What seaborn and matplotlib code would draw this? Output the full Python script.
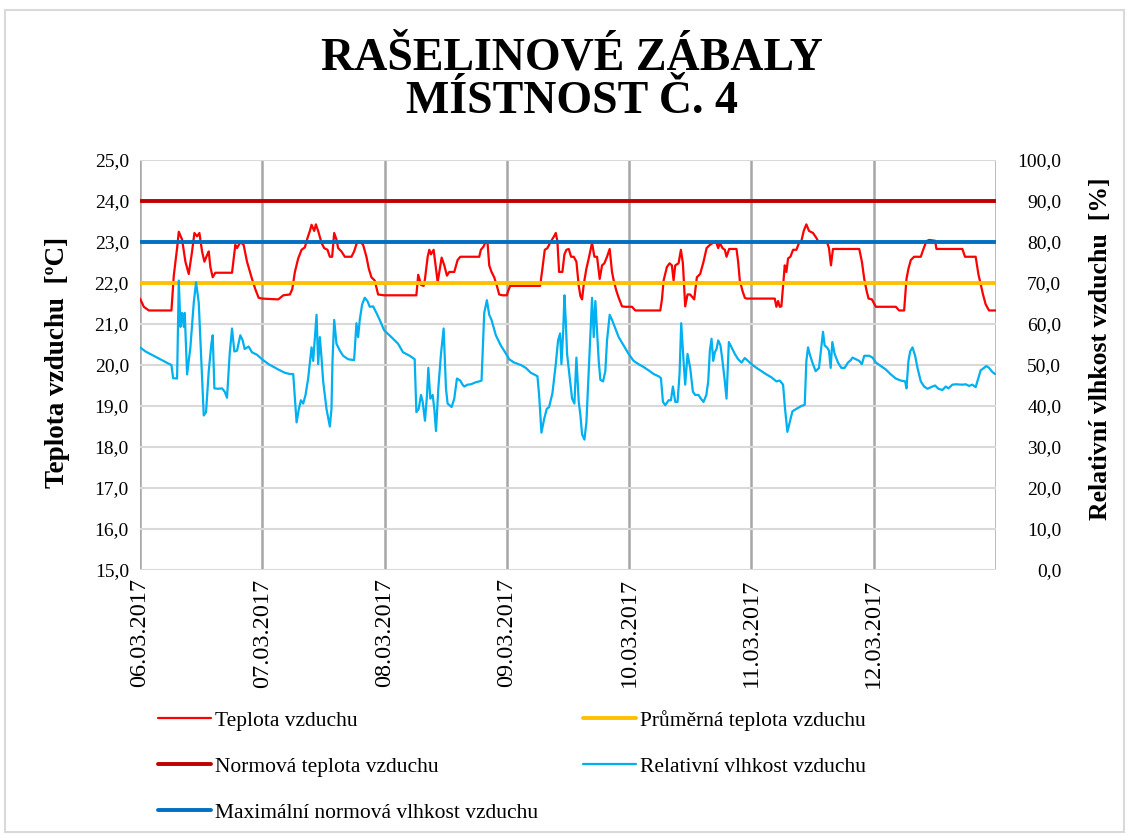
import numpy as np
import pandas as pd
import matplotlib
matplotlib.use("Agg")
import matplotlib.pyplot as plt
import seaborn as sns
from matplotlib.patches import Rectangle
from matplotlib.lines import Line2D

# ---------------- data (hours since 06.03.2017 00:00) ----------------
temp_hours = [0.0, 0.75, 1.73, 6.17, 6.63, 7.28, 7.61, 8.26, 8.91, 9.57, 10.22, 10.68, 11.2, 11.66,
              12.18, 12.64, 13.16, 13.49, 13.81, 14.27, 14.79, 18.06, 18.71, 19.04, 19.69, 20.34,
              21.0, 21.98, 22.63, 23.28, 23.94, 27.14, 28.11, 29.42, 29.88, 30.4, 31.05, 31.71,
              32.36, 32.88, 33.34, 33.67, 34.19, 34.51, 34.97, 35.62, 36.15, 36.8, 37.26, 37.71,
              38.11, 38.56, 38.89, 39.54, 40.2, 41.5, 42.02, 42.68, 43.13, 43.79, 44.44, 44.9,
              45.42, 46.07, 46.73, 47.9, 54.24, 54.6, 55.2, 55.67, 55.93, 56.46, 56.78, 57.11,
              57.63, 58.09, 58.42, 58.74, 59.2, 59.72, 60.24, 60.7, 61.68, 62.33, 62.86, 66.58,
              66.9, 67.43, 67.88, 68.21, 68.54, 68.99, 69.52, 70.04, 70.5, 71.15, 72.0, 72.26,
              72.65, 78.53, 78.98, 79.44, 79.96, 80.49, 81.27, 81.6, 81.92, 82.25, 82.9, 83.3,
              83.69, 84.15, 84.61, 85.13, 85.65, 86.11, 86.44, 86.76, 87.09, 87.61, 88.07, 88.72,
              89.18, 89.7, 90.22, 90.68, 91.14, 91.66, 92.18, 92.64, 92.97, 93.49, 93.95, 94.6,
              95.25, 96.56, 97.21, 102.11, 102.44, 102.76, 103.41, 103.94, 104.39, 104.72, 105.05,
              105.7, 106.16, 106.55, 107.0, 107.46, 107.98, 108.77, 109.29, 109.94, 110.6, 111.2,
              111.84, 112.5, 113.02, 113.48, 113.8, 114.32, 114.78, 115.11, 115.63, 117.07, 117.39,
              117.72, 118.24, 118.7, 119.03, 124.58, 124.9, 125.23, 125.56, 125.88, 126.21, 126.54,
              126.86, 127.19, 127.65, 128.17, 128.82, 129.35, 129.8, 130.26, 130.78, 131.3, 132.09,
              132.74, 133.07, 134.83, 135.22, 135.61, 136.0, 141.16, 141.68, 142.14, 142.6, 142.99,
              143.64, 144.42, 148.34, 148.99, 149.97, 150.43, 150.82, 151.28, 151.93, 153.24, 153.7,
              154.35, 154.87, 156.05, 156.31, 161.4, 161.92, 164.01, 164.54, 164.99, 165.45, 165.97,
              166.63, 168.0]
temp_values = [21.62, 21.42, 21.33, 21.33, 22.18, 22.85, 23.25, 23.06, 22.52, 22.22, 22.77, 23.22,
               23.14, 23.22, 22.77, 22.52, 22.68, 22.77, 22.39, 22.14, 22.25, 22.25, 22.93, 22.85,
               23.0, 22.93, 22.52, 22.1, 21.85, 21.64, 21.62, 21.6, 21.7, 21.72, 21.85, 22.27, 22.6,
               22.81, 22.87, 23.1, 23.27, 23.42, 23.27, 23.43, 23.27, 22.98, 22.85, 22.81, 22.64,
               22.64, 23.22, 23.06, 22.85, 22.77, 22.64, 22.64, 22.77, 23.02, 23.02, 22.93, 22.64,
               22.35, 22.14, 22.06, 21.72, 21.7, 21.7, 22.2, 21.95, 21.93, 22.1, 22.64, 22.81, 22.7,
               22.81, 22.35, 22.02, 22.27, 22.62, 22.43, 22.18, 22.27, 22.27, 22.56, 22.64, 22.64,
               22.81, 22.89, 23.02, 22.98, 22.43, 22.27, 22.14, 21.93, 21.72, 21.7, 21.7, 21.81,
               21.93, 21.93, 22.35, 22.81, 22.85, 22.98, 23.14, 23.22, 23.02, 22.27, 22.27, 22.7,
               22.81, 22.83, 22.64, 22.64, 22.52, 21.93, 21.68, 21.6, 21.97, 22.35, 22.6, 22.98,
               22.64, 22.64, 22.1, 22.43, 22.48, 22.64, 22.83, 22.27, 22.06, 21.81, 21.64, 21.43,
               21.42, 21.42, 21.33, 21.33, 21.6, 22.06, 22.39, 22.48, 22.43, 22.06, 22.43, 22.48,
               22.81, 22.48, 21.43, 21.72, 21.72, 21.6, 22.14, 22.22, 22.52, 22.85, 22.93, 22.98,
               23.02, 22.85, 22.98, 22.85, 22.81, 22.64, 22.83, 22.83, 22.52, 22.06, 21.81, 21.64,
               21.62, 21.62, 21.42, 21.56, 21.42, 21.43, 21.93, 22.43, 22.27, 22.6, 22.64, 22.81,
               22.81, 22.98, 23.02, 23.27, 23.43, 23.27, 23.22, 23.1, 23.02, 23.0, 22.85, 22.43,
               22.83, 22.83, 22.52, 22.1, 21.81, 21.62, 21.6, 21.42, 21.42, 21.33, 21.33, 22.1,
               22.35, 22.56, 22.64, 22.64, 22.81, 23.02, 23.05, 23.03, 22.83, 22.83, 22.64, 22.64,
               22.22, 21.97, 21.72, 21.48, 21.33, 21.33]

hum_hours = [0.0, 0.43, 1.08, 5.65, 6.17, 6.5, 7.28, 7.61, 7.94, 8.26, 8.59, 8.78, 9.24, 9.89, 10.55,
             11.0, 11.53, 11.98, 12.51, 12.96, 13.49, 14.01, 14.27, 14.6, 15.32, 16.1, 16.62, 17.08,
             17.6, 18.06, 18.52, 19.04, 19.69, 20.15, 20.54, 21.32, 21.98, 22.96, 23.94, 25.24,
             27.14, 27.79, 28.44, 29.42, 30.07, 30.4, 30.73, 31.18, 31.58, 32.03, 32.49, 33.01,
             33.67, 33.99, 34.32, 34.65, 34.97, 35.3, 35.62, 35.95, 36.6, 37.26, 37.58, 37.78,
             38.11, 38.56, 39.22, 39.87, 40.85, 42.02, 42.48, 42.81, 43.13, 43.59, 44.11, 44.64,
             45.09, 45.75, 46.4, 47.05, 47.9, 49.34, 50.64, 51.62, 52.93, 53.91, 54.24, 54.69,
             55.15, 55.48, 55.93, 56.33, 56.59, 56.98, 57.44, 57.76, 58.09, 58.55, 59.07, 59.59,
             60.05, 60.37, 61.16, 61.68, 62.2, 62.86, 63.31, 63.64, 64.29, 64.95, 65.92, 66.58,
             67.03, 67.56, 68.08, 68.54, 68.99, 69.84, 70.82, 71.8, 72.45, 73.43, 74.74, 75.72,
             76.7, 77.35, 78.0, 78.33, 78.79, 79.31, 79.83, 80.29, 80.94, 81.6, 82.05, 82.45,
             82.71, 83.05, 83.3, 83.55, 83.82, 84.35, 84.8, 85.26, 85.65, 86.11, 86.44, 86.76,
             87.22, 87.61, 88.07, 88.39, 88.72, 89.05, 89.37, 89.7, 90.03, 90.35, 90.88, 91.33,
             91.66, 92.18, 92.64, 93.29, 93.95, 94.92, 95.9, 96.88, 97.86, 98.84, 99.82, 100.8,
             101.78, 102.24, 102.63, 103.09, 103.74, 104.2, 104.59, 105.05, 105.5, 105.89, 106.22,
             106.68, 107.0, 107.46, 107.98, 108.51, 108.96, 109.62, 110.07, 110.6, 111.15, 111.52,
             111.84, 112.17, 112.5, 112.82, 113.15, 113.48, 113.93, 114.32, 114.78, 115.11, 115.57,
             116.09, 116.74, 117.39, 118.05, 118.7, 119.16, 120.01, 120.99, 121.97, 122.95, 123.92,
             124.9, 125.56, 126.21, 126.6, 127.06, 127.52, 128.04, 128.82, 129.8, 130.46, 130.78,
             131.11, 131.43, 131.96, 132.61, 133.26, 133.72, 134.05, 134.37, 134.83, 135.22,
             135.55, 135.88, 136.33, 136.99, 137.64, 138.29, 138.95, 139.5, 139.85, 140.51, 141.16,
             141.68, 142.14, 143.12, 143.77, 144.42, 145.4, 146.38, 147.36, 148.34, 149.32, 150.17,
             150.43, 150.82, 151.15, 151.61, 152.13, 152.59, 153.24, 153.89, 154.55, 155.53,
             156.05, 156.7, 157.48, 158.14, 158.66, 159.44, 160.1, 161.4, 162.06, 162.71, 163.36,
             164.01, 164.54, 164.99, 165.65, 166.1, 166.63, 167.28, 167.8]
hum_values = [54.3, 53.9, 53.3, 50.3, 50.0, 46.8, 46.7, 70.6, 59.3, 62.7, 59.3, 62.7, 47.7, 54.3, 65.2,
              70.2, 65.2, 52.7, 37.7, 38.5, 48.5, 55.2, 57.25, 44.3, 44.2, 44.3, 43.5, 42.0, 52.7,
              58.9, 53.3, 53.5, 57.25, 56.0, 53.9, 54.5, 53.1, 52.5, 51.4, 50.2, 48.9, 48.5, 48.1,
              47.8, 47.8, 41.8, 36.0, 39.3, 41.4, 40.6, 42.7, 46.8, 54.3, 51.0, 56.8, 62.25, 50.2,
              56.8, 51.8, 46.0, 39.3, 35.0, 39.3, 51.0, 61.0, 55.2, 53.5, 52.25, 51.4, 51.2, 60.2,
              56.8, 61.0, 64.75, 66.4, 65.6, 64.2, 64.3, 62.7, 61.0, 58.5, 56.8, 55.2, 53.1, 52.25,
              51.4, 38.5, 39.3, 42.7, 41.0, 36.4, 42.7, 49.3, 41.8, 42.7, 39.3, 33.9, 44.3, 52.7,
              58.9, 44.3, 40.6, 39.75, 41.8, 46.7, 46.2, 45.2, 44.75, 45.2, 45.3, 45.8, 46.0, 46.2,
              62.7, 65.8, 62.25, 61.0, 57.25, 54.75, 52.8, 51.4, 50.6, 50.0, 49.3, 48.1, 47.7, 47.25,
              42.7, 33.5, 36.8, 39.3, 39.75, 43.1, 50.2, 56.0, 57.7, 50.2, 58.0, 67.0, 61.0, 52.7,
              46.8, 41.8, 40.6, 51.8, 41.0, 37.7, 33.1, 31.8, 36.0, 48.5, 56.8, 66.4, 56.8, 65.6,
              58.5, 51.0, 46.4, 46.0, 48.5, 56.0, 62.25, 61.0, 58.9, 56.8, 54.75, 52.7, 51.0, 50.2,
              49.5, 48.7, 47.8, 47.25, 46.8, 41.0, 40.2, 41.4, 41.4, 44.75, 41.0, 41.0, 47.7, 60.2,
              51.0, 45.2, 52.7, 49.3, 43.5, 42.7, 42.7, 41.8, 41.0, 42.7, 46.0, 53.5, 56.4, 51.0,
              53.1, 53.9, 56.0, 54.75, 51.0, 46.0, 41.8, 55.6, 54.3, 52.7, 51.4, 50.6, 51.7, 51.2,
              50.2, 49.3, 48.5, 47.7, 47.0, 46.0, 46.2, 45.2, 39.3, 33.7, 36.0, 38.7, 39.3, 40.0,
              40.3, 51.0, 54.3, 52.7, 50.6, 48.5, 49.3, 54.3, 58.1, 54.75, 54.3, 53.5, 49.3, 55.6,
              52.7, 50.6, 49.3, 49.3, 50.6, 51.2, 51.8, 51.4, 51.0, 50.2, 52.25, 52.25, 51.8, 50.6,
              49.75, 48.9, 47.7, 46.7, 46.2, 46.0, 44.3, 51.0, 53.3, 54.3, 52.25, 49.3, 46.0, 44.75,
              44.2, 44.75, 45.0, 44.2, 43.9, 44.75, 44.3, 45.2, 45.3, 45.2, 45.3, 44.9, 45.2, 44.6,
              46.8, 48.7, 49.3, 49.75, 49.3, 48.3, 47.8]

norm_temp = 24.0          # Normová teplota vzduchu [°C]
mean_temp = 22.0          # Průměrná teplota vzduchu [°C]
max_norm_humidity = 80.0  # Maximální normová vlhkost vzduchu [%]

date_labels = ["06.03.2017", "07.03.2017", "08.03.2017", "09.03.2017",
               "10.03.2017", "11.03.2017", "12.03.2017"]
title_lines = ["RAŠELINOVÉ ZÁBALY", "MÍSTNOST Č. 4"]
series_labels = ["Teplota vzduchu", "Průměrná teplota vzduchu", "Normová teplota vzduchu",
                 "Relativní vlhkost vzduchu", "Maximální normová vlhkost vzduchu"]

# ---------------- style ----------------
sns.set_theme(style="white")
plt.rcParams['font.family'] = ['Liberation Serif', 'DejaVu Serif']
plt.rcParams['text.color'] = 'black'
plt.rcParams['axes.labelcolor'] = 'black'
plt.rcParams['xtick.color'] = 'black'
plt.rcParams['ytick.color'] = 'black'

C_TEMP = "#FF0000"
C_MEAN = "#FFC000"
C_NORM = "#C00000"
C_HUM = "#00B0F0"
C_MAXH = "#0070C0"

W, H = 1129, 834
fig = plt.figure(figsize=(W / 100, H / 100), dpi=100)
fig.patch.set_facecolor("white")
fig.add_artist(Rectangle((5 / W, 2 / H), 1119 / W, 822 / H, transform=fig.transFigure,
                         fill=False, edgecolor="#d9d9d9", linewidth=1.5))

ax = fig.add_axes([140 / W, 1 - 570 / H, 856 / W, 410 / H])
ax2 = ax.twinx()

temp_df = pd.DataFrame({"hours": temp_hours, "value": temp_values})
hum_df = pd.DataFrame({"hours": hum_hours, "value": hum_values})

# primary axis (temperature)
sns.lineplot(data=temp_df, x="hours", y="value", ax=ax, color=C_TEMP, linewidth=1.6,
             estimator=None, sort=False, zorder=3)
ax.axhline(mean_temp, color=C_MEAN, linewidth=2.8, zorder=4)
ax.axhline(norm_temp, color=C_NORM, linewidth=2.8, zorder=4)

# secondary axis (humidity)
sns.lineplot(data=hum_df, x="hours", y="value", ax=ax2, color=C_HUM, linewidth=1.6,
             estimator=None, sort=False, zorder=3)
ax2.axhline(max_norm_humidity, color=C_MAXH, linewidth=2.8, zorder=4)

# axes limits & ticks
ax.set_xlim(0, 168)
ax.set_ylim(15, 25)
ax2.set_ylim(0, 100)
day_ticks = np.arange(0, 169, 24)
ax.set_xticks(day_ticks)
ax.set_xticklabels(date_labels + [""], rotation=90, fontsize=17.5, va="top", ha="center")
temp_ticks = np.arange(15, 25.01, 1.0)
ax.set_yticks(temp_ticks)
ax.set_yticklabels([f"{v:.1f}".replace(".", ",") for v in temp_ticks], fontsize=14)
hum_ticks = np.arange(0, 100.01, 10.0)
ax2.set_yticks(hum_ticks)
ax2.set_yticklabels([f"{v:.1f}".replace(".", ",") for v in hum_ticks], fontsize=14, ha="right")
ax.tick_params(axis="x", length=0, pad=6, colors="black")
ax.tick_params(axis="y", length=0, pad=8, colors="black")
ax2.tick_params(axis="y", length=0, pad=47, colors="black")

ax.set_xlabel("")
ax.set_ylabel("")
ax2.set_ylabel("")

ax.yaxis.grid(True, color="#d9d9d9", linewidth=1.5, zorder=0)
ax.xaxis.grid(True, color="#a6a6a6", linewidth=1.8, zorder=0)
ax.set_axisbelow(True)
ax2.grid(False)
for sp in ax.spines.values():
    sp.set_visible(False)
for sp in ax2.spines.values():
    sp.set_visible(False)
ax2.patch.set_visible(False)

# axis titles
fig.text(57 / W, 1 - 362 / H, "Teplota vzduchu  [ºC]", rotation=90, ha="center", va="center",
         fontsize=19.5, fontweight="bold", color="black")
fig.text(1100 / W, 1 - 349 / H, "Relativní vlhkost vzduchu  [%]", rotation=90, ha="center",
         va="center", fontsize=18.5, fontweight="bold", color="black")

# title
fig.text(572 / W, 1 - 58 / H, title_lines[0], ha="center", va="center", fontsize=33,
         fontweight="bold", color="black")
fig.text(572 / W, 1 - 102 / H, title_lines[1], ha="center", va="center", fontsize=33,
         fontweight="bold", color="black")

# legend (row-wise order as in the reference)
handles = {
    series_labels[0]: Line2D([], [], color=C_TEMP, linewidth=1.6),
    series_labels[1]: Line2D([], [], color=C_MEAN, linewidth=2.8),
    series_labels[2]: Line2D([], [], color=C_NORM, linewidth=2.8),
    series_labels[3]: Line2D([], [], color=C_HUM, linewidth=1.6),
    series_labels[4]: Line2D([], [], color=C_MAXH, linewidth=2.8),
}
order = [series_labels[0], series_labels[2], series_labels[4], series_labels[1], series_labels[3]]
leg = fig.legend([handles[k] for k in order], order, loc="upper left",
                 bbox_to_anchor=(158 / W, 1 - 710 / H), ncol=2, frameon=False, fontsize=15.5,
                 handlelength=2.45, handletextpad=0.2, columnspacing=2.1, labelspacing=1.2,
                 borderpad=0, borderaxespad=0)
for t in leg.get_texts():
    t.set_color("black")

fig.savefig("out.png", dpi=100, facecolor="white")
